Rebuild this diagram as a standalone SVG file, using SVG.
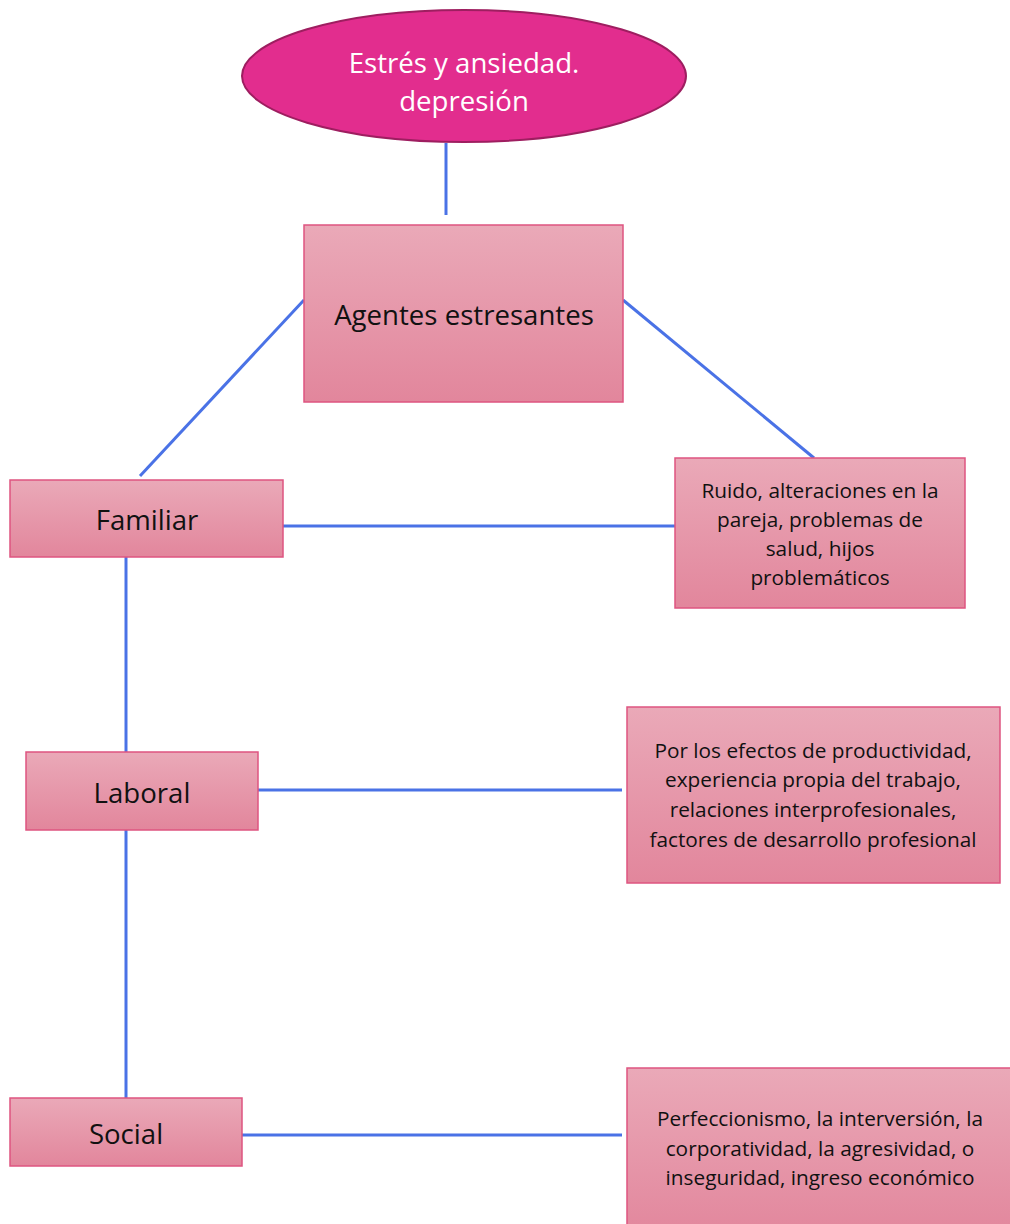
<svg xmlns="http://www.w3.org/2000/svg" width="1010" height="1224" viewBox="0 0 1010 1224">
<defs>
<linearGradient id="g" x1="0" y1="0" x2="0" y2="1">
<stop offset="0" stop-color="#EAA9B8"/>
<stop offset="1" stop-color="#E2869C"/>
</linearGradient>
<style>
.box{fill:url(#g);stroke:#DE5480;stroke-width:1.5}
.t{font-family:"Open Sans","Liberation Sans",sans-serif;fill:#111;text-anchor:middle}
.big{font-size:27.6px}
.sm{font-size:20.8px}
.c{stroke:#4A72E6;stroke-width:3;fill:none}
</style>
</defs>
<rect width="1010" height="1224" fill="#fff"/>
<g id="connectors">
<line class="c" x1="446" y1="143" x2="446" y2="215"/>
<line class="c" x1="304" y1="300" x2="140" y2="476"/>
<line class="c" x1="623" y1="300" x2="814" y2="458"/>
<line class="c" x1="283" y1="526" x2="675" y2="526"/>
<line class="c" x1="126" y1="557" x2="126" y2="752"/>
<line class="c" x1="258" y1="790" x2="622" y2="790"/>
<line class="c" x1="126" y1="830" x2="126" y2="1098"/>
<line class="c" x1="242" y1="1135" x2="622" y2="1135"/>
</g>
<g id="top">
<ellipse cx="464" cy="76" rx="222" ry="66" fill="#E22D8E" stroke="#9E1E60" stroke-width="2"/>
<text class="t big" x="464" y="73" style="fill:#fff">Estrés y ansiedad.</text>
<text class="t big" x="464" y="111" style="fill:#fff">depresión</text>
</g>
<g id="agentes">
<rect class="box" x="304" y="225" width="319" height="177"/>
<text class="t big" x="464" y="325">Agentes estresantes</text>
</g>
<g id="familiar">
<rect class="box" x="10" y="480" width="273" height="77"/>
<text class="t big" x="147" y="530">Familiar</text>
</g>
<g id="ruido">
<rect class="box" x="675" y="458" width="290" height="150"/>
<text class="t sm" x="820" y="498">Ruido, alteraciones en la</text>
<text class="t sm" x="820" y="527">pareja, problemas de</text>
<text class="t sm" x="820" y="556">salud, hijos</text>
<text class="t sm" x="820" y="585">problemáticos</text>
</g>
<g id="laboral">
<rect class="box" x="26" y="752" width="232" height="78"/>
<text class="t big" x="142" y="803">Laboral</text>
</g>
<g id="por">
<rect class="box" x="627" y="707" width="373" height="176"/>
<text class="t sm" x="813" y="758">Por los efectos de productividad,</text>
<text class="t sm" x="813" y="787">experiencia propia del trabajo,</text>
<text class="t sm" x="813" y="817">relaciones interprofesionales,</text>
<text class="t sm" x="813" y="847">factores de desarrollo profesional</text>
</g>
<g id="social">
<rect class="box" x="10" y="1098" width="232" height="68"/>
<text class="t big" x="126" y="1144">Social</text>
</g>
<g id="perf">
<rect class="box" x="627" y="1068" width="390" height="170"/>
<text class="t sm" x="820" y="1126">Perfeccionismo, la interversión, la</text>
<text class="t sm" x="820" y="1156">corporatividad, la agresividad, o</text>
<text class="t sm" x="820" y="1185">inseguridad, ingreso económico</text>
</g>
</svg>
